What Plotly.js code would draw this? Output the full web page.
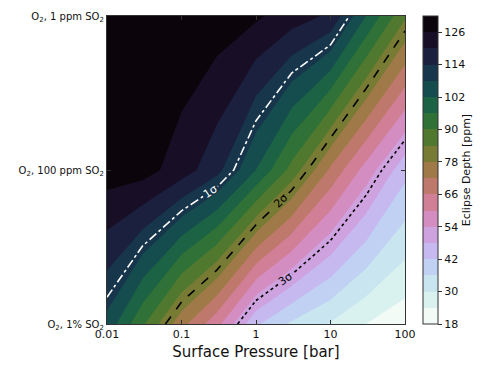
<!DOCTYPE html>
<html>
<head>
<meta charset="utf-8">
<script src="https://cdn.plot.ly/plotly-3.0.1.min.js"></script>
<style>
  html, body { margin: 0; padding: 0; background: #fff; }
  #vis { width: 491px; height: 369px; }
</style>
</head>
<body>
<div id="vis"></div>
<script>
// surface pressure grid [bar]
const pressure = [0.01, 0.03, 0.1, 0.3, 1, 3, 10, 30, 100];
const atmospheres = [
  'O<sub>2</sub>, 1% SO<sub>2</sub>',
  'O<sub>2</sub>, 100 ppm SO<sub>2</sub>',
  'O<sub>2</sub>, 1 ppm SO<sub>2</sub>'
];
// eclipse depth [ppm], one row per atmosphere
const depth1pct   = [106, 91, 74, 62, 43, 35, 29.5, 24, 20];
const depth100ppm = [129, 128.5, 123, 116, 102, 88, 71, 57.5, 44];
const depth1ppm   = [131.5, 131.5, 131, 129.5, 127, 123, 119, 102, 85];

// significance of the difference from a bare rock
const bareRockDepth = 139;
const depthError = 29;
const sigmaLevels = [1, 2, 3];

const pressureTicks = [0.01, 0.1, 1, 10, 100];
const pressureTickText = ['0.01', '0.1', '1', '10', '100'];
const depthTicks = [18, 30, 42, 54, 66, 78, 90, 102, 114, 126];

// matplotlib cubehelix, reversed
function cubehelix(x) {
  const a = x * (1 - x) / 2;
  const phi = 2 * Math.PI * (0.5 / 3 - 1.5 * x);
  const c = Math.cos(phi), s = Math.sin(phi);
  const ch = v => Math.round(255 * Math.min(1, Math.max(0, v)));
  const r = x + a * (-0.14861 * c + 1.78277 * s);
  const g = x + a * (-0.29227 * c - 0.90649 * s);
  const b = x + a * (1.97294 * c);
  return `rgb(${ch(r)},${ch(g)},${ch(b)})`;
}
const lvlStart = 18, lvlEnd = 132, lvlStep = 6;
const nBands = (lvlEnd - lvlStart) / lvlStep;
const colorscale = [];
for (let i = 0; i < nBands; i++) {
  const mid = lvlStart + lvlStep * (i + 0.5);
  colorscale.push([i / (nBands - 1), cubehelix(1 - (mid - lvlStart) / (lvlEnd - lvlStart))]);
}

const logP = pressure.map(p => Math.log10(p));
const rows = [0, 1, 2];
const depth = [depth1pct, depth100ppm, depth1ppm];
const sigma = depth.map(r => r.map(d => (bareRockDepth - d) / depthError));

const fill = {
  type: 'contour',
  x: logP, y: rows, z: depth,
  autocontour: false,
  contours: { start: lvlStart + lvlStep, end: lvlEnd - lvlStep, size: lvlStep, coloring: 'fill' },
  line: { width: 0, smoothing: 0 },
  zauto: false, zmin: lvlStart, zmax: lvlEnd,
  colorscale: colorscale,
  hoverinfo: 'skip',
  colorbar: {
    x: 1.0604, xanchor: 'left', xpad: 0,
    y: 0.5, yanchor: 'middle', len: 1, ypad: 0,
    thickness: 15,
    outlinecolor: '#333', outlinewidth: 1,
    tickmode: 'array', tickvals: depthTicks,
    ticks: 'outside', ticklen: 4, tickcolor: '#333',
    tickfont: { family: 'DejaVu Sans', size: 11, color: '#111' },
    title: { text: 'Eclipse Depth [ppm]', side: 'right',
             font: { family: 'DejaVu Sans', size: 11, color: '#111' } }
  }
};

const lineStyles = [
  { color: '#ffffff', dash: 'dashdot' },
  { color: '#000000', dash: 'dash' },
  { color: '#000000', dash: 'dot' }
];
const sigmaLines = sigmaLevels.map((lv, i) => ({
  type: 'contour',
  x: logP, y: rows, z: sigma,
  autocontour: false,
  contours: { start: lv, end: lv, size: 1, coloring: 'none',
              showlabels: true, labelformat: '$.0f',
              labelfont: { family: 'DejaVu Sans', size: 11, color: lineStyles[i].color } },
  line: { color: lineStyles[i].color, width: 1.6, dash: lineStyles[i].dash, smoothing: 0 },
  showscale: false,
  hoverinfo: 'skip'
}));

const layout = {
  width: 491, height: 369,
  margin: { l: 107, r: 86, t: 16, b: 45 },
  paper_bgcolor: '#fff', plot_bgcolor: '#fff',
  font: { family: 'DejaVu Sans', color: '#111' },
  showlegend: false,
  xaxis: {
    range: [-2, 2], tickmode: 'array',
    tickvals: pressureTicks.map(p => Math.log10(p)), ticktext: pressureTickText,
    ticks: 'inside', ticklen: 4, tickcolor: '#333',
    showline: true, linecolor: '#333', linewidth: 1.2, mirror: 'ticks',
    showgrid: false, zeroline: false,
    tickfont: { size: 11 },
    title: { text: 'Surface Pressure [bar]', font: { size: 15 }, standoff: 6 }
  },
  yaxis: {
    range: [0, 2], tickmode: 'array', tickvals: rows, ticktext: atmospheres,
    ticks: 'inside', ticklen: 4, tickcolor: '#333',
    showline: true, linecolor: '#333', linewidth: 1.2, mirror: 'ticks',
    showgrid: false, zeroline: false,
    tickfont: { size: 10 }
  }
};

Plotly.newPlot('vis', [fill, ...sigmaLines], layout, {
  displayModeBar: false,
  locale: 'sig',
  locales: { sig: { dictionary: {}, format: { currency: ['', 'σ'] } } }
});
</script>
</body>
</html>
